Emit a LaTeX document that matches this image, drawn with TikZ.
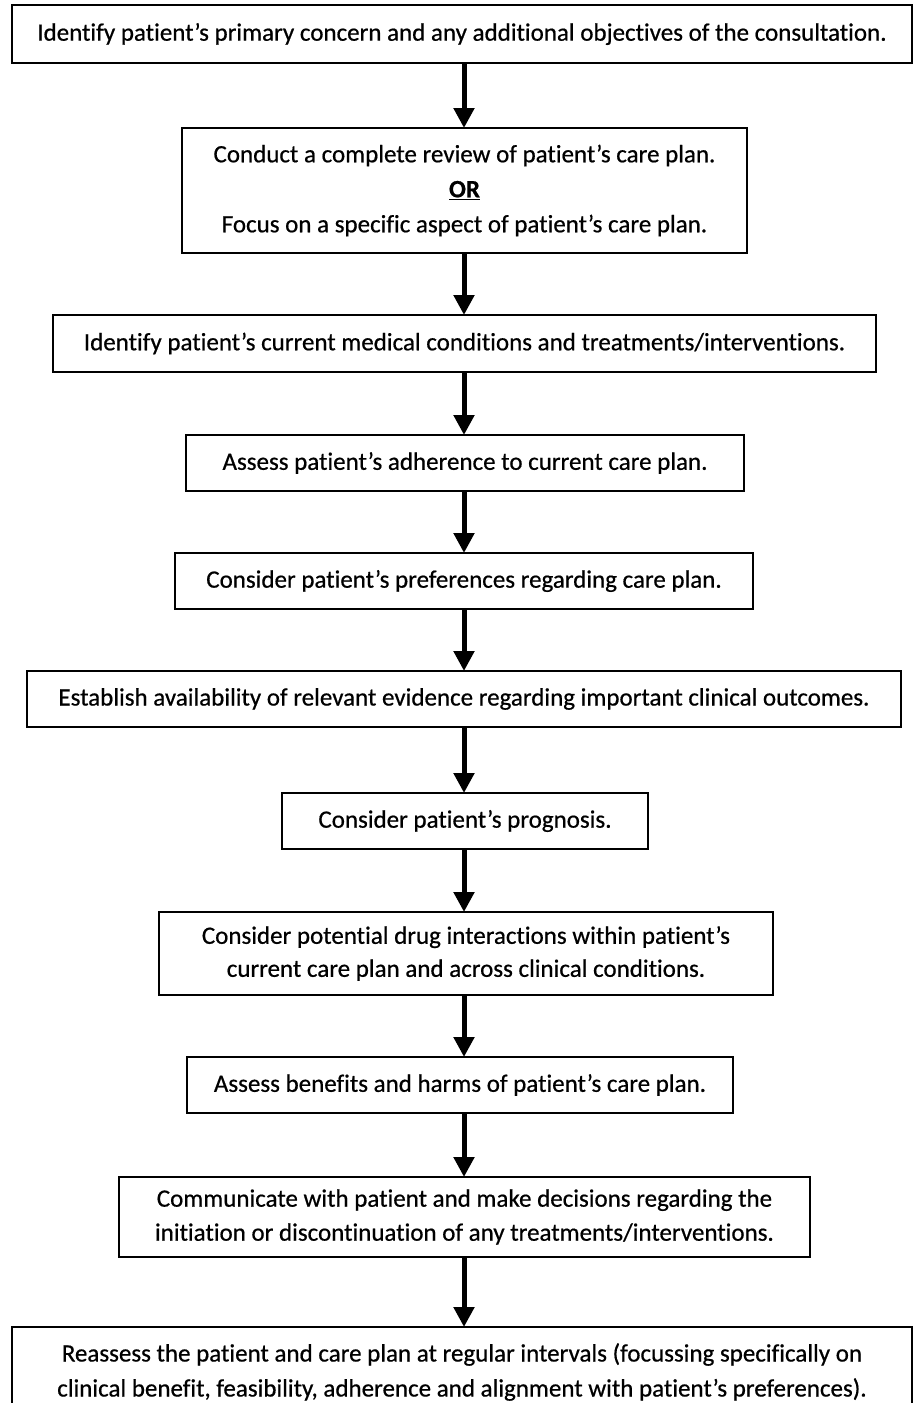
\documentclass[tikz,border=0pt]{standalone}
\usepackage{fontspec}
\setmainfont{Carlito}[RawFeature={-liga}, FakeBold=0.6]
\usetikzlibrary{arrows.meta}
\begin{document}
\begin{tikzpicture}[x=1pt,y=-1pt,
  box/.style={draw=black, line width=2pt, fill=white, align=center, inner sep=0pt,
    font=\fontsize{25}{35}\selectfont},
  arr/.style={line width=5pt, -{Triangle[width=20pt,length=20pt]}, shorten >=-1pt}]
\useasboundingbox (0,0) rectangle (918,1403);
\fill[white] (0,0) rectangle (918,1403);
\coordinate (axis) at (464,0);
\node[box, minimum width=900pt, minimum height=58pt] (n1) at (462,34)
  {Identify patient’s primary concern and any additional objectives of the consultation.};
\node[box, minimum width=565pt, minimum height=125pt] (n2) at (464.5,190.5)
  {Conduct a complete review of patient’s care plan.\\ \underline{\textbf{OR}}\\ Focus on a specific aspect of patient’s care plan.};
\node[box, minimum width=823pt, minimum height=57pt] (n3) at (464.5,343.5)
  {Identify patient’s current medical conditions and treatments/interventions.};
\node[box, minimum width=558pt, minimum height=56pt] (n4) at (465,463)
  {Assess patient’s adherence to current care plan.};
\node[box, minimum width=578pt, minimum height=56pt] (n5) at (464,581)
  {Consider patient’s preferences regarding care plan.};
\node[box, minimum width=874pt, minimum height=56pt] (n6) at (464,699)
  {Establish availability of relevant evidence regarding important clinical outcomes.};
\node[box, minimum width=366pt, minimum height=56pt] (n7) at (465,821)
  {Consider patient’s prognosis.};
\node[box, minimum width=614pt, minimum height=83pt, font=\fontsize{25}{33}\selectfont] (n8) at (466,953.5)
  {Consider potential drug interactions within patient’s\\ current care plan and across clinical conditions.};
\node[box, minimum width=546pt, minimum height=56pt] (n9) at (460,1085)
  {Assess benefits and harms of patient’s care plan.};
\node[box, minimum width=691pt, minimum height=80pt, font=\fontsize{25}{34}\selectfont] (n10) at (464.5,1217)
  {Communicate with patient and make decisions regarding the\\ initiation or discontinuation of any treatments/interventions.};
\node[box, minimum width=900pt, minimum height=90pt] (n11) at (462,1372)
  {Reassess the patient and care plan at regular intervals (focussing specifically on\\ clinical benefit, feasibility, adherence and alignment with patient’s preferences).};
\foreach \a/\b in {n1/n2,n2/n3,n3/n4,n4/n5,n5/n6,n6/n7,n7/n8,n8/n9,n9/n10,n10/n11}
  \draw[arr] (\a.south -| axis) -- (\b.north -| axis);
\end{tikzpicture}
\end{document}
